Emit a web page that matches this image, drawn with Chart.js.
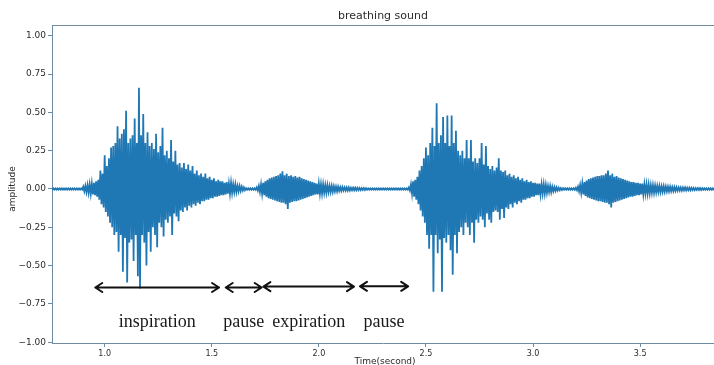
<!DOCTYPE html>
<html>
<head>
<meta charset="utf-8">
<title>breathing sound</title>
<script src="https://cdn.jsdelivr.net/npm/chart.js@4.4.1/dist/chart.umd.min.js"></script>
<style>
    html, body { margin: 0; padding: 0; background: #ffffff; }
    #chartBox { width: 714px; height: 365px; }
</style>
</head>
<body>
<div id="chartBox"><canvas id="breathChart" width="714" height="365"></canvas></div>
<script>
// 采样时间轴：起点与间隔（秒）
const sampleStart = 0.75;
const sampleStep = 0.01;

// 每个采样区间内的正向峰值（振幅）
const peakUpper = [
    0.004, 0.004, 0.004, 0.004, 0.004, 0.004, 0.004, 0.004, 0.004, 0.004,
    0.004, 0.004, 0.004, 0.004, 0.004, 0.015, 0.02, 0.025, 0.03, 0.035,
    0.04, 0.05, 0.06, 0.12, 0.1, 0.22, 0.15, 0.2, 0.27, 0.28,
    0.3, 0.41, 0.33, 0.36, 0.39, 0.51, 0.3, 0.33, 0.35, 0.46,
    0.3, 0.66, 0.35, 0.49, 0.3, 0.37, 0.28, 0.3, 0.26, 0.36,
    0.24, 0.28, 0.4, 0.22, 0.25, 0.2, 0.32, 0.18, 0.25, 0.16,
    0.17, 0.14, 0.17, 0.13, 0.16, 0.12, 0.15, 0.1, 0.12, 0.09,
    0.1, 0.08, 0.1, 0.07, 0.08, 0.06, 0.07, 0.05, 0.06, 0.05,
    0.05, 0.04, 0.045, 0.035, 0.04, 0.03, 0.03, 0.02, 0.02, 0.015,
    0.01, 0.005, 0.005, 0.005, 0.005, 0.005, 0.01, 0.02, 0.03, 0.04,
    0.05, 0.06, 0.07, 0.075, 0.08, 0.085, 0.09, 0.1, 0.115, 0.09,
    0.1, 0.085, 0.09, 0.08, 0.085, 0.075, 0.08, 0.07, 0.065, 0.06,
    0.055, 0.05, 0.045, 0.04, 0.035, 0.035, 0.03, 0.03, 0.025, 0.025,
    0.02, 0.02, 0.018, 0.015, 0.015, 0.012, 0.012, 0.01, 0.01, 0.01,
    0.008, 0.008, 0.008, 0.007, 0.007, 0.006, 0.006, 0.005, 0.004, 0.004,
    0.004, 0.004, 0.004, 0.004, 0.004, 0.004, 0.004, 0.004, 0.004, 0.004,
    0.004, 0.004, 0.004, 0.004, 0.004, 0.004, 0.004, 0.01, 0.03, 0.05,
    0.06, 0.08, 0.12, 0.15, 0.2, 0.27, 0.22, 0.3, 0.4, 0.28,
    0.56, 0.3, 0.35, 0.47, 0.3, 0.48, 0.28, 0.48, 0.3, 0.38,
    0.25, 0.22, 0.25, 0.2, 0.32, 0.2, 0.32, 0.18, 0.2, 0.17,
    0.2, 0.3, 0.16, 0.28, 0.15, 0.13, 0.15, 0.12, 0.14, 0.2,
    0.12, 0.11, 0.12, 0.09, 0.1, 0.08, 0.09, 0.07, 0.08, 0.06,
    0.07, 0.05, 0.06, 0.045, 0.05, 0.04, 0.04, 0.035, 0.035, 0.03,
    0.03, 0.025, 0.02, 0.02, 0.015, 0.012, 0.01, 0.008, 0.006, 0.005,
    0.005, 0.005, 0.005, 0.005, 0.005, 0.008, 0.015, 0.025, 0.035, 0.045,
    0.055, 0.065, 0.07, 0.075, 0.08, 0.085, 0.085, 0.09, 0.09, 0.1,
    0.12, 0.09, 0.1, 0.08, 0.085, 0.075, 0.07, 0.065, 0.06, 0.055,
    0.05, 0.045, 0.045, 0.04, 0.04, 0.035, 0.035, 0.03, 0.03, 0.028,
    0.025, 0.025, 0.022, 0.02, 0.02, 0.018, 0.018, 0.016, 0.015, 0.014,
    0.013, 0.012, 0.011, 0.01, 0.01, 0.009, 0.009, 0.008, 0.008, 0.007,
    0.007, 0.006, 0.006, 0.006, 0.005, 0.005, 0.005, 0.005, 0.005, 0.005,
    0.005
];

// 每个采样区间内的负向峰值（振幅）
const peakLower = [
    -0.004, -0.004, -0.004, -0.004, -0.004, -0.004, -0.004, -0.004, -0.004, -0.004,
    -0.004, -0.004, -0.004, -0.004, -0.004, -0.015, -0.02, -0.025, -0.03, -0.035,
    -0.04, -0.05, -0.07, -0.1, -0.12, -0.15, -0.18, -0.22, -0.25, -0.3,
    -0.28, -0.41, -0.3, -0.54, -0.32, -0.61, -0.35, -0.33, -0.47, -0.3,
    -0.57, -0.65, -0.3, -0.35, -0.5, -0.28, -0.41, -0.25, -0.3, -0.38,
    -0.22, -0.25, -0.31, -0.2, -0.22, -0.18, -0.3, -0.16, -0.18, -0.21,
    -0.14, -0.15, -0.12, -0.14, -0.11, -0.12, -0.1, -0.11, -0.09, -0.1,
    -0.08, -0.08, -0.07, -0.07, -0.06, -0.06, -0.05, -0.05, -0.045, -0.04,
    -0.04, -0.035, -0.03, -0.03, -0.025, -0.02, -0.02, -0.015, -0.012, -0.01,
    -0.008, -0.005, -0.005, -0.005, -0.005, -0.005, -0.01, -0.02, -0.03, -0.04,
    -0.05, -0.06, -0.065, -0.07, -0.075, -0.08, -0.085, -0.09, -0.09, -0.1,
    -0.13, -0.09, -0.085, -0.08, -0.08, -0.075, -0.07, -0.065, -0.06, -0.055,
    -0.05, -0.045, -0.04, -0.035, -0.035, -0.03, -0.03, -0.025, -0.025, -0.02,
    -0.02, -0.018, -0.015, -0.015, -0.012, -0.012, -0.01, -0.01, -0.01, -0.01,
    -0.008, -0.008, -0.008, -0.007, -0.007, -0.006, -0.006, -0.005, -0.004, -0.004,
    -0.004, -0.004, -0.004, -0.004, -0.004, -0.004, -0.004, -0.004, -0.004, -0.004,
    -0.004, -0.004, -0.004, -0.004, -0.004, -0.004, -0.004, -0.01, -0.03, -0.05,
    -0.07, -0.1, -0.14, -0.18, -0.22, -0.3, -0.39, -0.3, -0.67, -0.3,
    -0.42, -0.33, -0.67, -0.32, -0.35, -0.3, -0.4, -0.56, -0.3, -0.42,
    -0.28, -0.25, -0.3, -0.22, -0.25, -0.3, -0.22, -0.35, -0.2, -0.22,
    -0.18, -0.2, -0.25, -0.16, -0.2, -0.22, -0.15, -0.14, -0.15, -0.2,
    -0.13, -0.19, -0.12, -0.13, -0.1, -0.12, -0.09, -0.1, -0.08, -0.09,
    -0.07, -0.07, -0.06, -0.06, -0.05, -0.05, -0.04, -0.04, -0.035, -0.03,
    -0.03, -0.025, -0.02, -0.02, -0.015, -0.012, -0.01, -0.008, -0.006, -0.005,
    -0.005, -0.005, -0.005, -0.005, -0.005, -0.008, -0.015, -0.025, -0.035, -0.045,
    -0.055, -0.06, -0.065, -0.07, -0.075, -0.08, -0.08, -0.085, -0.09, -0.09,
    -0.1, -0.12, -0.09, -0.085, -0.08, -0.075, -0.07, -0.065, -0.06, -0.055,
    -0.05, -0.05, -0.045, -0.04, -0.04, -0.035, -0.035, -0.03, -0.03, -0.028,
    -0.025, -0.025, -0.022, -0.02, -0.02, -0.018, -0.018, -0.016, -0.015, -0.014,
    -0.013, -0.012, -0.011, -0.01, -0.01, -0.009, -0.009, -0.008, -0.008, -0.007,
    -0.007, -0.006, -0.006, -0.006, -0.005, -0.005, -0.005, -0.005, -0.005, -0.005,
    -0.005
];

// 坐标刻度
const xTickValues = [1.0, 1.5, 2.0, 2.5, 3.0, 3.5];
const yTickValues = [-1.0, -0.75, -0.5, -0.25, 0.0, 0.25, 0.5, 0.75, 1.0];

// 呼吸阶段标注（起止时间、箭头高度）
const phaseNames = ['inspiration', 'pause', 'expiration', 'pause'];
const phaseStart = [0.956, 1.565, 1.741, 2.192];
const phaseEnd = [1.534, 1.733, 2.164, 2.417];
const phaseArrowY = [-0.643, -0.643, -0.637, -0.635];
const phaseTextY = -0.87;

const spineColor = '#6f8ba1';
const textColor = '#2b2b2b';

document.addEventListener('DOMContentLoaded', function () {
    // 峰值交替连线，画出波形
    const wavePoints = [];
    peakUpper.forEach((v, i) => {
        const t = sampleStart + i * sampleStep;
        wavePoints.push({ x: t, y: v });
        wavePoints.push({ x: t + sampleStep / 2, y: peakLower[i] });
    });

    // 标题、轴标题、顶部边框和阶段箭头
    const decorPlugin = {
        id: 'decor',
        afterDraw(chart) {
            const ctx = chart.ctx;
            const area = chart.chartArea;
            const xs = chart.scales.x;
            const ys = chart.scales.y;
            ctx.save();

            // 顶部边框
            ctx.strokeStyle = spineColor;
            ctx.lineWidth = 1;
            ctx.beginPath();
            ctx.moveTo(area.left, area.top + 0.5);
            ctx.lineTo(area.right, area.top + 0.5);
            ctx.stroke();

            // 标题
            ctx.fillStyle = textColor;
            ctx.font = '11px "DejaVu Sans"';
            ctx.textAlign = 'center';
            ctx.textBaseline = 'middle';
            ctx.fillText('breathing sound', (area.left + area.right) / 2, 16);

            // 轴标题
            ctx.font = '9px "DejaVu Sans"';
            ctx.fillText('Time(second)', (area.left + area.right) / 2 + 2, 362);
            ctx.save();
            ctx.translate(13, 189);
            ctx.rotate(-Math.PI / 2);
            ctx.fillText('amplitude', 0, 0);
            ctx.restore();

            // 阶段箭头与文字
            ctx.strokeStyle = '#111111';
            ctx.fillStyle = '#1a1a1a';
            ctx.lineWidth = 2;
            ctx.lineCap = 'round';
            ctx.lineJoin = 'round';
            ctx.font = '18px "Liberation Serif", "Times New Roman", serif';
            phaseNames.forEach((name, i) => {
                const x1 = xs.getPixelForValue(phaseStart[i]);
                const x2 = xs.getPixelForValue(phaseEnd[i]);
                const y = ys.getPixelForValue(phaseArrowY[i]);
                ctx.beginPath();
                ctx.moveTo(x1, y);
                ctx.lineTo(x2, y);
                ctx.moveTo(x1 + 7, y - 4.5);
                ctx.lineTo(x1, y);
                ctx.lineTo(x1 + 7, y + 4.5);
                ctx.moveTo(x2 - 7, y - 4.5);
                ctx.lineTo(x2, y);
                ctx.lineTo(x2 - 7, y + 4.5);
                ctx.stroke();
                ctx.fillText(name, (x1 + x2) / 2, ys.getPixelForValue(phaseTextY));
            });
            ctx.restore();
        }
    };

    const ctx = document.getElementById('breathChart').getContext('2d');
    new Chart(ctx, {
        type: 'line',
        data: {
            datasets: [{
                label: 'breathing sound',
                data: wavePoints,
                borderColor: '#1f77b4',
                borderWidth: 1.8,
                pointRadius: 0,
                tension: 0,
                fill: false
            }]
        },
        options: {
            responsive: false,
            animation: false,
            events: [],
            layout: { padding: { top: 25, left: 0, right: 0, bottom: 0 } },
            plugins: {
                legend: { display: false },
                title: { display: false },
                tooltip: { enabled: false }
            },
            scales: {
                x: {
                    type: 'linear',
                    min: 0.754,
                    max: 3.845,
                    afterBuildTicks: scale => { scale.ticks = xTickValues.map(v => ({ value: v })); },
                    afterFit: scale => { scale.height = 22; },
                    border: { display: true, color: spineColor, width: 1 },
                    grid: { drawOnChartArea: false, drawTicks: true, tickLength: 4, color: spineColor },
                    ticks: {
                        padding: 2,
                        maxRotation: 0,
                        color: textColor,
                        font: { family: 'DejaVu Sans', size: 8 },
                        callback: v => v.toFixed(1)
                    }
                },
                y: {
                    type: 'linear',
                    min: -1.005,
                    max: 1.07,
                    afterBuildTicks: scale => { scale.ticks = yTickValues.map(v => ({ value: v })); },
                    afterFit: scale => { scale.width = 52; },
                    border: { display: true, color: spineColor, width: 1 },
                    grid: { drawOnChartArea: false, drawTicks: true, tickLength: 4, color: spineColor },
                    ticks: {
                        padding: 2,
                        color: textColor,
                        font: { family: 'DejaVu Sans', size: 9 },
                        callback: v => (v < 0 ? '\u2212' : '') + Math.abs(v).toFixed(2)
                    }
                }
            }
        },
        plugins: [decorPlugin]
    });
});
</script>
</body>
</html>
